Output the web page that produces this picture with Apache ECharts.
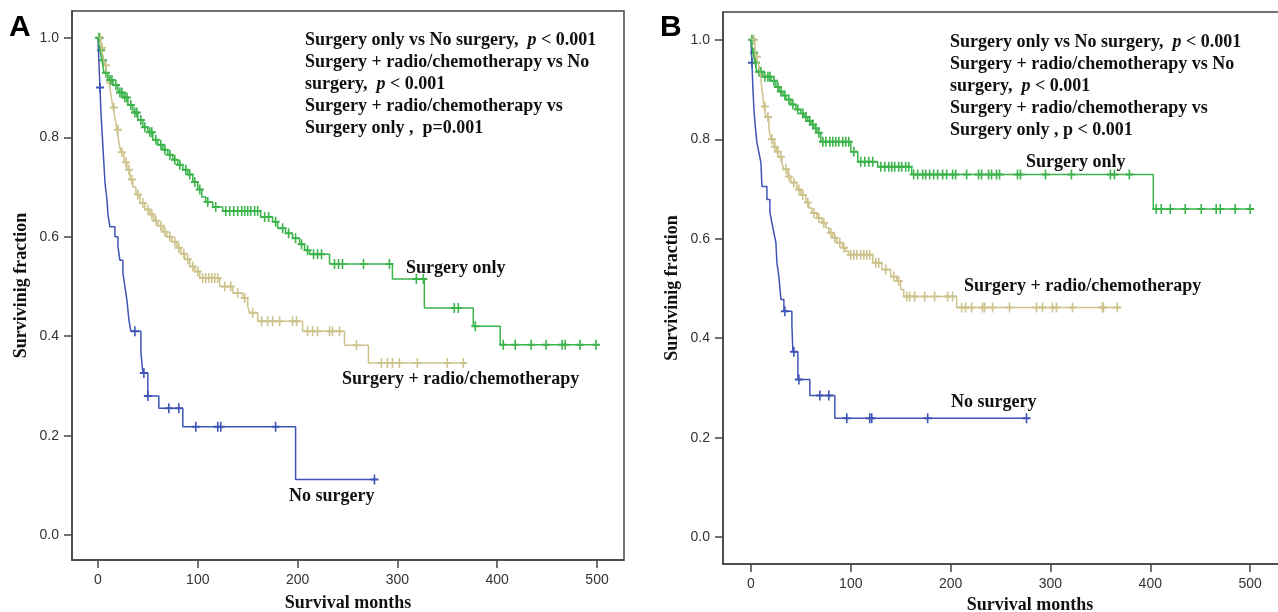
<!DOCTYPE html>
<html>
<head>
<meta charset="utf-8">
<title>Survival curves</title>
<script src="https://cdn.jsdelivr.net/npm/echarts@6/dist/echarts.min.js"></script>
<style>
  html, body { margin: 0; padding: 0; background: #fff; }
  #main { width: 1278px; height: 612px; }
</style>
</head>
<body>
<div id="main"></div>
<script>
// tick labels
var xTicks = [0, 100, 200, 300, 400, 500];
var yTicks = [0, 0.2, 0.4, 0.6, 0.8, 1.0];

// panel A - Surgery only
var aGreenT = [0, 2, 4, 6, 10, 15, 20, 25, 30, 35, 40, 45, 50, 55, 60, 65, 70, 75, 80, 85, 90, 95, 100, 104, 108, 115, 125, 163, 175, 180, 188, 195, 202, 207, 212, 232, 295, 327, 376, 403];
var aGreenS = [1.0, 0.975, 0.955, 0.93, 0.915, 0.905, 0.89, 0.88, 0.865, 0.85, 0.835, 0.82, 0.81, 0.795, 0.785, 0.775, 0.765, 0.755, 0.745, 0.735, 0.725, 0.71, 0.695, 0.68, 0.67, 0.66, 0.652, 0.64, 0.63, 0.617, 0.607, 0.597, 0.585, 0.573, 0.565, 0.545, 0.515, 0.457, 0.42, 0.383];
var aGreenEnd = 499;
var aGreenCens = [1, 3, 5, 8, 12, 14, 18, 22, 24, 27, 29, 33, 37, 39, 43, 47, 52, 54, 58, 63, 67, 72, 77, 82, 88, 92, 97, 102, 110, 118, 128, 132, 136, 140, 144, 147, 150, 153, 157, 160, 167, 171, 178, 185, 191, 198, 204, 210, 216, 220, 224, 237, 241, 245, 266, 292, 319, 326, 357, 361, 378, 406, 418, 434, 449, 465, 468, 483, 499];

// panel A - Surgery + radio/chemotherapy
var aTanT = [0, 3, 5, 7, 9, 11, 13, 15, 17, 19, 21, 23, 26, 29, 32, 35, 38, 42, 47, 52, 56, 60, 65, 69, 74, 79, 83, 87, 92, 97, 102, 122, 135, 145, 150, 152, 160, 205, 247, 271];
var aTanS = [1.0, 0.98, 0.96, 0.945, 0.93, 0.91, 0.885, 0.86, 0.84, 0.815, 0.79, 0.77, 0.75, 0.735, 0.715, 0.70, 0.685, 0.668, 0.655, 0.645, 0.632, 0.622, 0.61, 0.60, 0.59, 0.578, 0.566, 0.555, 0.54, 0.53, 0.517, 0.50, 0.487, 0.477, 0.46, 0.447, 0.43, 0.41, 0.382, 0.346];
var aTanEnd = 366;
var aTanCens = [2, 4, 8, 12, 16, 20, 24, 28, 31, 34, 40, 45, 50, 54, 58, 63, 67, 72, 77, 81, 86, 90, 95, 100, 105, 108, 111, 114, 117, 120, 127, 133, 140, 147, 155, 164, 170, 175, 182, 195, 199, 210, 215, 220, 232, 235, 242, 259, 284, 290, 295, 302, 320, 350, 366];

// panel A - No surgery
var aBlueT = [0, 1, 2, 3, 4, 5, 6, 7, 9, 10, 12, 17, 20, 22, 25, 27, 29, 31, 33, 43, 45, 50, 61, 85, 198];
var aBlueS = [1.0, 0.95, 0.90, 0.85, 0.815, 0.78, 0.745, 0.71, 0.675, 0.645, 0.62, 0.60, 0.58, 0.553, 0.527, 0.50, 0.473, 0.433, 0.41, 0.368, 0.326, 0.28, 0.255, 0.218, 0.112];
var aBlueEnd = 277;
var aBlueCens = [2, 37, 46, 50, 71, 81, 98, 120, 123, 178, 277];

// panel B - Surgery only
var bGreenT = [0, 2, 4, 6, 12, 20, 25, 28, 32, 35, 40, 45, 50, 53, 57, 60, 63, 66, 70, 100, 107, 127, 161, 403];
var bGreenS = [1.0, 0.974, 0.954, 0.936, 0.926, 0.918, 0.905, 0.896, 0.888, 0.88, 0.87, 0.86, 0.852, 0.845, 0.837, 0.83, 0.822, 0.813, 0.795, 0.775, 0.755, 0.745, 0.729, 0.66];
var bGreenEnd = 500;
var bGreenCens = [1, 3, 5, 8, 10, 14, 17, 19, 23, 27, 30, 34, 38, 42, 47, 52, 55, 59, 62, 65, 68, 72, 75, 79, 82, 85, 88, 92, 95, 98, 103, 110, 114, 118, 122, 130, 134, 138, 141, 144, 148, 151, 155, 158, 163, 167, 172, 175, 179, 183, 187, 192, 196, 202, 205, 216, 228, 231, 238, 241, 246, 249, 267, 270, 295, 321, 360, 364, 379, 406, 411, 420, 435, 451, 466, 470, 485, 500];

// panel B - Surgery + radio/chemotherapy
var bTanT = [0, 4, 5, 7, 8, 9, 10, 11, 12, 13, 15, 18, 20, 23, 26, 28, 31, 33, 37, 40, 46, 50, 55, 58, 61, 66, 71, 75, 78, 82, 86, 92, 95, 98, 122, 131, 140, 146, 150, 153, 206];
var bTanS = [1.0, 0.98, 0.966, 0.955, 0.946, 0.935, 0.92, 0.90, 0.885, 0.866, 0.845, 0.82, 0.80, 0.785, 0.775, 0.765, 0.752, 0.74, 0.725, 0.713, 0.699, 0.688, 0.673, 0.662, 0.652, 0.642, 0.632, 0.622, 0.612, 0.602, 0.592, 0.582, 0.575, 0.568, 0.552, 0.538, 0.524, 0.515, 0.498, 0.484, 0.462];
var bTanEnd = 370;
var bTanCens = [3, 6, 9, 14, 17, 21, 24, 27, 30, 35, 38, 43, 48, 52, 57, 63, 68, 73, 80, 84, 89, 93, 100, 103, 106, 110, 113, 116, 119, 125, 128, 135, 143, 148, 156, 159, 164, 174, 184, 197, 202, 211, 215, 221, 232, 234, 242, 259, 286, 292, 302, 306, 322, 352, 353, 367];

// panel B - No surgery
var bBlueT = [0, 1, 2, 3, 4, 6, 8, 10, 11, 16, 19, 21, 23, 25, 26, 28, 30, 33, 41, 42, 47, 59, 84];
var bBlueS = [1.0, 0.954, 0.90, 0.86, 0.833, 0.793, 0.773, 0.753, 0.705, 0.679, 0.653, 0.632, 0.612, 0.592, 0.552, 0.524, 0.478, 0.454, 0.426, 0.373, 0.317, 0.285, 0.239];
var bBlueEnd = 276;
var bBlueCens = [1, 34, 43, 48, 69, 78, 96, 119, 121, 177, 276];

var GREEN = '#3cb44b', TAN = '#cdc38c', BLUE = '#3f55b5';
var SERIF = '"Liberation Serif", "Times New Roman", serif';
var SANS = '"Liberation Sans", Arial, sans-serif';
// censor mark: a small "+"
var PLUS = 'path://M4,0H6V10H4ZM0,4H10V6H0Z';

function stepData(T, S, end) {
  var d = T.map(function (t, i) { return [t, S[i]]; });
  d.push([end, S[S.length - 1]]);
  return d;
}
function survAt(T, S, t) {
  var s = S[0];
  for (var i = 0; i < T.length; i++) { if (T[i] <= t) s = S[i]; }
  return s;
}
function censData(T, S, C) {
  return C.map(function (t) { return [t, survAt(T, S, t)]; });
}
function curve(idx, T, S, end, C, color) {
  return [{
    type: 'line', xAxisIndex: idx, yAxisIndex: idx, step: 'end',
    data: stepData(T, S, end), showSymbol: false, silent: true,
    lineStyle: { color: color, width: 1.5 }
  }, {
    type: 'scatter', xAxisIndex: idx, yAxisIndex: idx,
    data: censData(T, S, C), symbol: PLUS, symbolSize: [8, 10], silent: true,
    itemStyle: { color: color, opacity: 1 }
  }];
}
function xAx(idx, min, max, gap) {
  return {
    type: 'value', gridIndex: idx, min: min, max: max,
    splitLine: { show: false },
    axisLine: { onZero: false, lineStyle: { color: '#444', width: 1.5 } },
    axisTick: { length: 8, customValues: xTicks, lineStyle: { color: '#444', width: 1.5 } },
    axisLabel: { customValues: xTicks, margin: 13, color: '#333', fontSize: 14, fontFamily: SANS },
    name: 'Survival months', nameLocation: 'middle', nameGap: gap,
    nameTextStyle: { fontFamily: SERIF, fontWeight: 'bold', fontSize: 18, color: '#111' }
  };
}
function yAx(idx, min, max) {
  return {
    type: 'value', gridIndex: idx, min: min, max: max,
    splitLine: { show: false },
    axisLine: { onZero: false, lineStyle: { color: '#444', width: 1.5 } },
    axisTick: { length: 8, customValues: yTicks, lineStyle: { color: '#444', width: 1.5 } },
    axisLabel: { customValues: yTicks, margin: 13, color: '#333', fontSize: 14, fontFamily: SANS,
      formatter: function (v) { return v.toFixed(1); } },
    name: 'Survivinig fraction', nameLocation: 'middle', nameGap: 42,
    nameTextStyle: { fontFamily: SERIF, fontWeight: 'bold', fontSize: 18, color: '#111' }
  };
}
var rich = {
  b: { fontFamily: SERIF, fontWeight: 'bold', fontSize: 18, color: '#111', lineHeight: 22 },
  i: { fontFamily: SERIF, fontWeight: 'bold', fontStyle: 'italic', fontSize: 18, color: '#111', lineHeight: 22 }
};
function label(text, left, top) {
  return { text: text, left: left, top: top, padding: 0,
    textStyle: { fontFamily: SERIF, fontWeight: 'bold', fontSize: 18, color: '#111' } };
}

var myChart = echarts.init(document.getElementById('main'));
var option = {
  animation: false,
  title: [
    { text: 'A', left: 9, top: 13, padding: 0, textStyle: { fontFamily: SANS, fontWeight: 'bold', fontSize: 30, color: '#000' } },
    { text: 'B', left: 660, top: 13, padding: 0, textStyle: { fontFamily: SANS, fontWeight: 'bold', fontSize: 30, color: '#000' } },
    { text: '{b|Surgery only vs No surgery,  }{i|p}{b| < 0.001}\n{b|Surgery + radio/chemotherapy vs No}\n{b|surgery,  }{i|p}{b| < 0.001}\n{b|Surgery + radio/chemotherapy vs}\n{b|Surgery only ,  p=0.001}',
      left: 305, top: 29, padding: 0, textStyle: { rich: rich } },
    { text: '{b|Surgery only vs No surgery,  }{i|p}{b| < 0.001}\n{b|Surgery + radio/chemotherapy vs No}\n{b|surgery,  }{i|p}{b| < 0.001}\n{b|Surgery + radio/chemotherapy vs}\n{b|Surgery only , p < 0.001}',
      left: 950, top: 31, padding: 0, textStyle: { rich: rich } },
    label('Surgery only', 406, 259),
    label('Surgery + radio/chemotherapy', 342, 370),
    label('No surgery', 289, 487),
    label('Surgery only', 1026, 153),
    label('Surgery + radio/chemotherapy', 964, 277),
    label('No surgery', 951, 393)
  ],
  grid: [
    { left: 72, top: 11, width: 552, height: 549, show: true, borderColor: '#444', borderWidth: 1.5, outerBoundsMode: 'none' },
    { left: 723, top: 12, width: 614, height: 552, show: true, borderColor: '#444', borderWidth: 1.5, outerBoundsMode: 'none' }
  ],
  xAxis: [xAx(0, -26, 527, 34), xAx(1, -28, 587, 31)],
  yAxis: [yAx(0, -0.05, 1.054), yAx(1, -0.054, 1.056)],
  series: [].concat(
    curve(0, aBlueT, aBlueS, aBlueEnd, aBlueCens, BLUE),
    curve(0, aTanT, aTanS, aTanEnd, aTanCens, TAN),
    curve(0, aGreenT, aGreenS, aGreenEnd, aGreenCens, GREEN),
    curve(1, bBlueT, bBlueS, bBlueEnd, bBlueCens, BLUE),
    curve(1, bTanT, bTanS, bTanEnd, bTanCens, TAN),
    curve(1, bGreenT, bGreenS, bGreenEnd, bGreenCens, GREEN)
  )
};
myChart.setOption(option);
</script>
</body>
</html>
